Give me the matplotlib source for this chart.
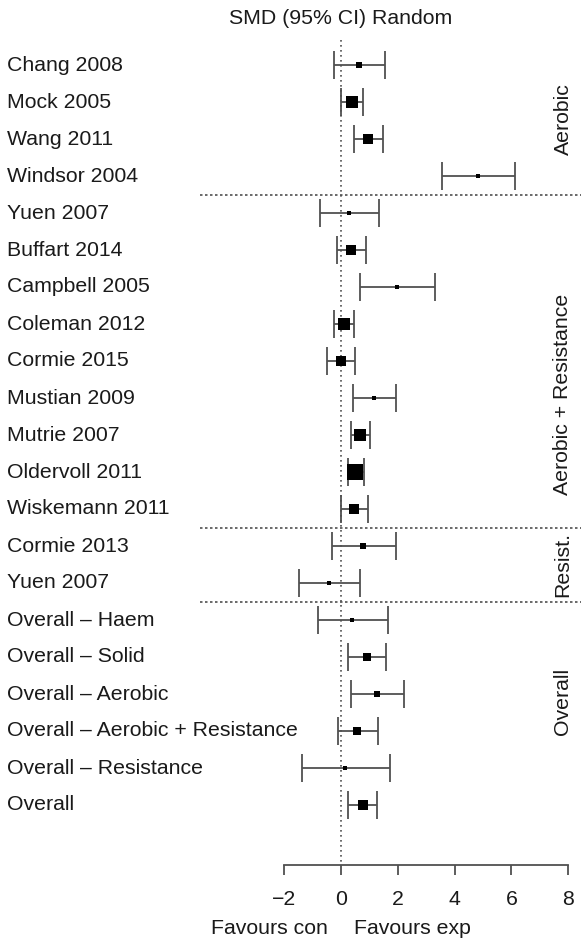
import matplotlib
matplotlib.use("Agg")
import matplotlib.pyplot as plt
import numpy as np

plt.rcParams['font.family'] = ['Liberation Sans', 'DejaVu Sans']

# Study / subgroup rows, top to bottom
labels = [
    "Chang 2008", "Mock 2005", "Wang 2011", "Windsor 2004",
    "Yuen 2007", "Buffart 2014", "Campbell 2005", "Coleman 2012",
    "Cormie 2015", "Mustian 2009", "Mutrie 2007", "Oldervoll 2011",
    "Wiskemann 2011",
    "Cormie 2013", "Yuen 2007",
    "Overall \u2013 Haem", "Overall \u2013 Solid", "Overall \u2013 Aerobic",
    "Overall \u2013 Aerobic + Resistance", "Overall \u2013 Resistance", "Overall",
]
smd = [0.65, 0.39, 0.95, 4.81,
       0.28, 0.36, 1.98, 0.10, 0.00, 1.18, 0.68, 0.49, 0.48,
       0.78, -0.42,
       0.40, 0.91, 1.29, 0.58, 0.16, 0.78]
ci_low = [-0.22, 0.02, 0.46, 3.55,
          -0.73, -0.14, 0.69, -0.22, -0.49, 0.44, 0.36, 0.26, 0.02,
          -0.29, -1.48,
          -0.79, 0.26, 0.37, -0.11, -1.36, 0.26]
ci_high = [1.57, 0.77, 1.50, 6.12,
           1.33, 0.90, 3.32, 0.47, 0.51, 1.93, 1.02, 0.83, 0.95,
           1.93, 0.67,
           1.65, 1.60, 2.24, 1.32, 1.72, 1.29]
weight = [6, 25, 20, 4,
          4, 20, 4, 25, 18, 4, 26, 44, 18,
          6, 4,
          4, 14, 6, 14, 4, 16]

groups = ["Aerobic", "Aerobic + Resistance", "Resist.", "Overall"]
group_mid = [1.45, 8.9, 13.5, 17.2]
group_breaks = [3.5, 12.5, 14.5]

xticks = [-2, 0, 2, 4, 6, 8]

W, H = 581, 940
fig = plt.figure(figsize=(W / 100, H / 100), dpi=100)
ax = fig.add_axes([0, 0, 1, 1])

# pixel -> data mapping
x0_px, x_scale = 340.7, 28.46
y0_px, y_step = 65.0, 37.0
ax.set_xlim((0 - x0_px) / x_scale, (W - x0_px) / x_scale)
ax.set_ylim((H - y0_px) / y_step, (0 - y0_px) / y_step)

rows = np.arange(len(labels))
fs = 15.3
txt = "#1a1a1a"
line_col = "#505050"

for r, lab in zip(rows, labels):
    ax.text((7 - x0_px) / x_scale, r, lab, ha="left", va="center",
            fontsize=fs, color=txt)

axis_row = (865 - y0_px) / y_step

# null line
ax.plot([0, 0], [-0.68, axis_row], color=line_col, lw=1.2, ls=(0, (1, 2)))

# group separators
for b in group_breaks:
    ax.axhline(b, xmin=200 / W, xmax=1, color=line_col, lw=1.2, ls=(0, (1.5, 1.5)))

# confidence intervals and weighted boxes
for r, m, lo, hi, w in zip(rows, smd, ci_low, ci_high, weight):
    ax.errorbar(m, r, xerr=[[m - lo], [hi - m]], fmt="none",
                ecolor=line_col, elinewidth=1.3, capsize=10, capthick=1.3)
    ax.plot(m, r, marker="s", color="black", ms=2.3 * np.sqrt(w) / 1.389, mew=0)

for g, ym in zip(groups, group_mid):
    ax.text((563 - x0_px) / x_scale, ym, g, rotation=90, ha="center",
            va="center", fontsize=fs, color=txt)

ax.text(0, (18 - y0_px) / y_step, "SMD (95% CI) Random", ha="center",
        va="center", fontsize=fs, color=txt)

# x axis
for s in ["top", "left", "right"]:
    ax.spines[s].set_visible(False)
ax.spines["bottom"].set_position(("data", axis_row))
ax.spines["bottom"].set_bounds(-2, 8)
ax.spines["bottom"].set_color(line_col)
ax.spines["bottom"].set_linewidth(1.3)
ax.set_xticks(xticks)
ax.set_xticklabels(["\u22122" if t < 0 else str(t) for t in xticks])
ax.tick_params(axis="x", direction="out", length=7, width=1.3,
               color=line_col, labelsize=fs, labelcolor=txt, pad=11)
ax.set_yticks([])

fav_row = (929 - y0_px) / y_step
ax.text((328 - x0_px) / x_scale, fav_row, "Favours con", ha="right",
        va="center", fontsize=fs, color=txt)
ax.text((354 - x0_px) / x_scale, fav_row, "Favours exp", ha="left",
        va="center", fontsize=fs, color=txt)

fig.savefig("out.png", dpi=100)
